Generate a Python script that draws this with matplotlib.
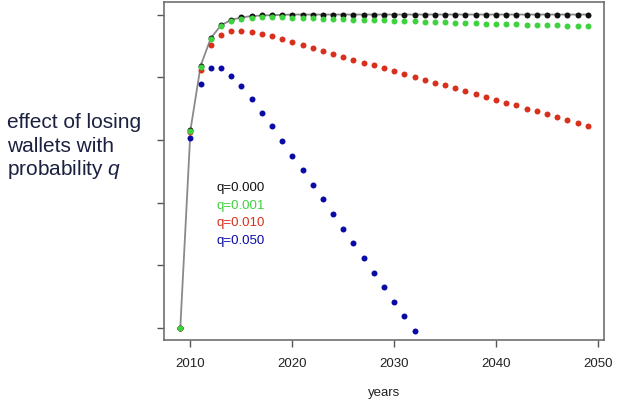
import matplotlib
matplotlib.use("Agg")
import matplotlib.pyplot as plt

plt.rcParams['font.family'] = ['Liberation Sans', 'DejaVu Sans']
plt.rcParams['mathtext.fontset'] = 'custom'
plt.rcParams['mathtext.rm'] = 'Liberation Sans'
plt.rcParams['mathtext.it'] = 'Liberation Sans:italic'

years = list(range(2009, 2050))
years_blue = list(range(2009, 2033))

q_labels = ["q=0.000", "q=0.001", "q=0.010", "q=0.050"]

q000 = [0.000, 0.632, 0.837, 0.925, 0.966, 0.983, 0.991, 0.995, 0.997, 0.998,
        0.999, 1.000, 1.000, 1.000, 1.000, 1.000, 1.000, 1.000, 1.000, 1.000,
        1.000, 1.000, 1.000, 1.000, 1.000, 1.000, 1.000, 1.000, 1.000, 1.000,
        1.000, 1.000, 1.000, 1.000, 1.000, 1.000, 1.000, 1.000, 1.000, 1.000,
        1.000]
q001 = [0.000, 0.630, 0.834, 0.922, 0.962, 0.978, 0.986, 0.989, 0.991, 0.991,
        0.991, 0.990, 0.989, 0.988, 0.987, 0.986, 0.985, 0.984, 0.983, 0.982,
        0.981, 0.980, 0.979, 0.978, 0.977, 0.976, 0.975, 0.974, 0.973, 0.972,
        0.971, 0.970, 0.970, 0.969, 0.968, 0.967, 0.967, 0.966, 0.965, 0.965,
        0.964]
q010 = [0.000, 0.625, 0.823, 0.903, 0.935, 0.946, 0.947, 0.944, 0.938, 0.930,
        0.921, 0.912, 0.902, 0.893, 0.884, 0.875, 0.866, 0.856, 0.847, 0.838,
        0.829, 0.820, 0.811, 0.801, 0.792, 0.783, 0.774, 0.765, 0.755, 0.746,
        0.737, 0.728, 0.719, 0.710, 0.700, 0.691, 0.682, 0.673, 0.664, 0.654,
        0.645]
q050 = [0.000, 0.606, 0.779, 0.829, 0.829, 0.805, 0.771, 0.732, 0.687, 0.643,
        0.598, 0.550, 0.504, 0.457, 0.411, 0.364, 0.317, 0.270, 0.223, 0.177,
        0.131, 0.084, 0.037, -0.010]

x_ticks = [2010, 2020, 2030, 2040, 2050]
y_ticks = [0.0, 0.2, 0.4, 0.6, 0.8, 1.0]

c_black = "#111111"
c_green = "#3fd23f"
c_red = "#d8301c"
c_blue = "#0a0aa6"
c_text = "#1b2040"

fig = plt.figure(figsize=(6.23, 4.06), dpi=100)
ax = fig.add_axes([164/623, 1-341/406, 440/623, 338/406])

ms = 4.3
ax.plot(years, q000, color="#8a8a8a", lw=1.3, zorder=1)
ax.plot(years, q000, 'o', color=c_black, ms=ms, mew=0, zorder=2)
ax.plot(years_blue, q050, 'o', color=c_blue, ms=ms, mew=0, zorder=3)
ax.plot(years, q010, 'o', color=c_red, ms=ms, mew=0, zorder=4)
ax.plot(years, q001, 'o', color=c_green, ms=ms, mew=0, zorder=5)

ax.set_xlim(2007.4, 2050.6)
ax.set_ylim(-0.038, 1.04)
ax.set_xticks(x_ticks)
ax.set_xticklabels([str(t) for t in x_ticks])
ax.set_yticks(y_ticks)
ax.set_yticklabels([])
ax.tick_params(axis='both', length=5, width=1.0, color="#555555",
               labelsize=9.5, labelcolor="#222222", pad=7)
for s in ax.spines.values():
    s.set_color("#707070")
    s.set_linewidth(1.2)

cols = [c_black, c_green, c_red, c_blue]
ys = [0.4447, 0.3917, 0.3388, 0.2858]
for lab, c, yy in zip(q_labels, cols, ys):
    ax.text(0.1198, yy, lab, color=c, fontsize=9.5, transform=ax.transAxes,
            ha='left', va='baseline')

fig.text(384/623, 1-396/406, "years", ha='center', va='baseline',
         fontsize=9.5, color="#222222")

fig.text(7/623, 1-128.3/406, "effect of losing", fontsize=15, color=c_text,
         ha='left', va='baseline')
fig.text(7/623, 1-151.7/406, "wallets with", fontsize=15, color=c_text,
         ha='left', va='baseline')
fig.text(7/623, 1-175/406, "probability $q$", fontsize=15, color=c_text,
         ha='left', va='baseline')

fig.savefig("out.png", dpi=100)
